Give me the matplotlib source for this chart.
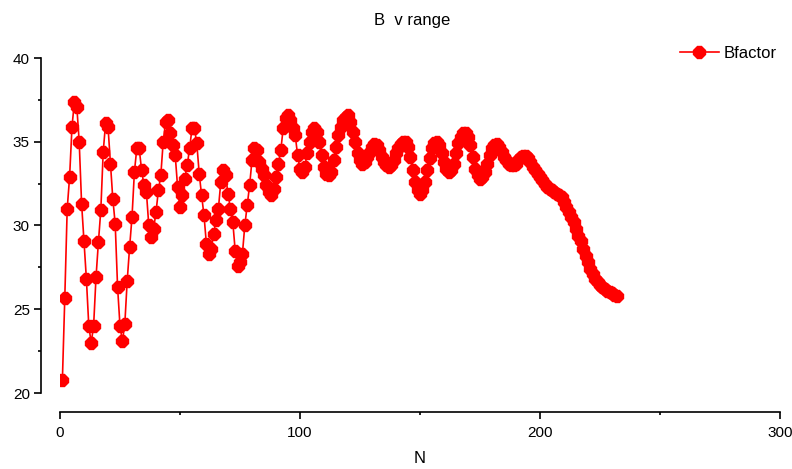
"""B-factor vs residue range, Grace-style offset axes."""
import matplotlib
matplotlib.use("Agg")
import matplotlib.pyplot as plt
from matplotlib.ticker import MultipleLocator

# residue index N and B-factor values
n_vals = list(range(1, 233))
bfactor = [
    20.8, 25.7, 31.0, 32.9, 35.9, 37.4, 37.1, 35.0, 31.3, 29.1,
    26.8, 24.0, 23.0, 24.0, 26.9, 29.0, 30.9, 34.4, 36.1, 35.9,
    33.7, 31.6, 30.1, 26.3, 24.0, 23.1, 24.1, 26.7, 28.7, 30.5,
    33.2, 34.6, 34.6, 33.3, 32.4, 32.0, 30.0, 29.3, 29.8, 30.8,
    32.1, 33.0, 35.0, 36.2, 36.3, 35.5, 34.8, 34.2, 32.3, 31.1,
    31.8, 32.8, 33.6, 34.6, 35.8, 35.8, 34.9, 33.1, 31.8, 30.6,
    28.9, 28.3, 28.6, 29.5, 30.3, 31.0, 32.6, 33.3, 33.0, 31.9,
    31.0, 30.2, 28.5, 27.6, 27.8, 28.3, 30.0, 31.2, 32.4, 33.9,
    34.6, 34.5, 33.8, 33.4, 33.0, 32.4, 32.0, 31.8, 32.2, 32.9,
    33.7, 34.5, 35.8, 36.4, 36.6, 36.3, 35.8, 35.4, 34.2, 33.4,
    33.2, 33.5, 34.3, 35.0, 35.6, 35.85, 35.6, 35.0, 34.2, 33.5,
    33.1, 33.0, 33.2, 33.9, 34.7, 35.4, 35.9, 36.3, 36.5, 36.6,
    36.2, 35.6, 35.0, 34.3, 33.9, 33.7, 33.8, 34.1, 34.4, 34.7,
    34.85, 34.8, 34.5, 34.1, 33.8, 33.6, 33.5, 33.6, 33.9, 34.3,
    34.6, 34.85, 35.0, 35.0, 34.7, 34.1, 33.3, 32.6, 32.1, 31.9,
    32.1, 32.6, 33.3, 34.0, 34.6, 34.9, 35.0, 34.8, 34.3, 33.8,
    33.4, 33.2, 33.3, 33.7, 34.3, 34.9, 35.3, 35.5, 35.5, 35.3,
    34.8, 34.1, 33.4, 33.0, 32.8, 32.9, 33.2, 33.7, 34.2, 34.6,
    34.8, 34.85, 34.7, 34.4, 34.1, 33.9, 33.7, 33.6, 33.6, 33.7,
    33.9, 34.1, 34.15, 34.15, 34.0, 33.8, 33.5, 33.3, 33.1, 32.9,
    32.7, 32.5, 32.3, 32.2, 32.1, 32.0, 31.9, 31.8, 31.7, 31.4,
    31.1, 30.8, 30.5, 30.2, 29.8, 29.4, 29.1, 28.6, 28.2, 27.8,
    27.4, 27.1, 26.8, 26.6, 26.45, 26.3, 26.2, 26.1, 26.05, 25.95,
    25.85, 25.8,
]

plt.rcParams["font.family"] = ["Liberation Sans", "DejaVu Sans"]
plt.rcParams["font.size"] = 11

fig = plt.figure(figsize=(7.92, 4.69), dpi=100)
ax = fig.add_axes([60 / 792, 1 - 393 / 469, 720 / 792, 335 / 469])

ax.plot(n_vals, bfactor, color="#ff0000", lw=1.2, marker="8", ms=9,
        mec="#ff0000", mfc="#ff0000", label="Bfactor")

ax.set_xlim(0, 300)
ax.set_ylim(20, 40)
for s in ("top", "right"):
    ax.spines[s].set_visible(False)
# offsets of 19 px at 100 dpi
ax.spines["left"].set_position(("outward", 13.7))
ax.spines["bottom"].set_position(("outward", 13.7))
ax.spines["left"].set_linewidth(1.2)
ax.spines["bottom"].set_linewidth(1.2)

ax.xaxis.set_major_locator(MultipleLocator(100))
ax.xaxis.set_minor_locator(MultipleLocator(50))
ax.yaxis.set_major_locator(MultipleLocator(5))
ax.yaxis.set_minor_locator(MultipleLocator(2.5))
ax.tick_params(which="major", length=5, width=1.2, direction="out", pad=3)
ax.tick_params(axis="x", which="major", pad=5)
ax.tick_params(which="minor", length=2.5, width=1.2, direction="out")

ax.set_xlabel("N", labelpad=8, fontsize=12)
fig.text(412 / 792, 1 - 21 / 469, "B  v range", ha="center", va="center", fontsize=12)

ax.legend(loc="upper right", bbox_to_anchor=(1.0, 1.045), frameon=False,
          borderaxespad=0, borderpad=0.2,
          handlelength=2.3, handletextpad=0.3, fontsize=12)

fig.savefig("out.png", dpi=100)
